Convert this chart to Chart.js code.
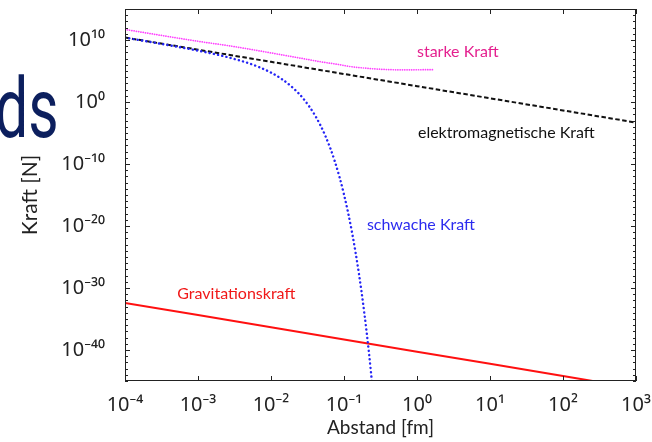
<!DOCTYPE html>
<html>
<head>
<meta charset="utf-8">
<script src="https://cdn.jsdelivr.net/npm/chart.js@4"></script>
<style>
  body { margin: 0; background: #fff; }
  #kaste { position: relative; width: 652px; height: 442px; overflow: hidden; }
  #slaids {
    position: absolute; left: -5px; top: 67px;
    font-family: Roboto, sans-serif; font-size: 84px; color: #0c1f5e;
    transform: scaleX(0.7); transform-origin: left top; line-height: 1;
  }
  canvas { position: absolute; left: 0; top: 0; }
</style>
</head>
<body>
<div id="kaste">
  <canvas id="speku_grafiks" width="652" height="442"></canvas>
  <div id="slaids">ds</div>
</div>
<script>
// Šīs rindas glabā attālumus (fm) desmitkāršos soļos.
const attalumiDekades = [1e-4, 1e-3, 1e-2, 1e-1, 1, 10, 100, 1000];

// Šī rinda glabā elektromagnētisko spēku (N).
const elektromagnetiska = [2.5e10, 2.75e8, 3.0e6, 3.3e4, 3.6e2, 4.0, 4.4e-2, 4.8e-4];

// Šī rinda glabā gravitācijas spēku (N).
const gravitacija = [4e-33, 4.3e-35, 4.7e-37, 5e-39, 5.4e-41, 5.9e-43, 6.3e-45, 6.8e-47];

// Šīs rindas glabā vājās mijiedarbības līknes punktus.
const vajaX = [1e-4, 3e-4, 1e-3, 2e-3, 3.5e-3, 5e-3, 7e-3, 0.01, 0.014, 0.02, 0.028, 0.04, 0.055, 0.075, 0.1, 0.13, 0.16, 0.19, 0.22, 0.25];
const vajaY = [2.4e10, 2.6e9, 1.9e8, 3.4e7, 6.2e6, 1.7e6, 3.8e5, 5.5e4, 5.2e3, 1.9e2, 3.0, 7.2e-3, 4.4e-6, 2.5e-10, 1.2e-15, 5.2e-22, 2.2e-28, 8.5e-35, 3.1e-41, 1.1e-47];

// Šīs rindas glabā stiprās mijiedarbības līknes punktus.
const stipraX = [1e-4, 1.07e-3, 2.75e-3, 0.0251, 0.0468, 0.089, 0.12, 0.59, 1.7];
const stipraY = [5e11, 5.5e9, 1.1e9, 1.2e7, 3.2e6, 1e6, 5.3e5, 1.55e5, 1.65e5];

// Šīs rindas glabā asu iedaļu eksponentes.
const xEksponentes = [-4, -3, -2, -1, 0, 1, 2, 3];
const yEksponentes = [-40, -30, -20, -10, 0, 10];
const yMazasNo = -45;
const yMazasLidz = 15;

// Šī rinda glabā uzrakstus pie līknēm: teksts, x, y, krāsa.
const uzraksti = [
    ["starke Kraft", 1.0, 1.2e8, "#e4208f"],
    ["elektromagnetische Kraft", 1.03, 1.1e-5, "#111111"],
    ["schwache Kraft", 0.206, 1.3e-20, "#2b2bef"],
    ["Gravitationskraft", 5.2e-4, 1e-31, "#f01818"]
];

// Šī funkcija pārvērš eksponenti augšrakstā.
function augsraksts(n) {
    const z = { "-": "\u207B", "0": "\u2070", "1": "\u00B9", "2": "\u00B2", "3": "\u00B3", "4": "\u2074",
        "5": "\u2075", "6": "\u2076", "7": "\u2077", "8": "\u2078", "9": "\u2079" };
    return "10" + String(n).split("").map(c => z[c]).join("");
}

// Šī funkcija savieno x un y masīvus punktos.
function punkti(xs, ys) {
    return xs.map((x, i) => ({ x: x, y: ys[i] }));
}

// Šis spraudnis zīmē rāmi, iekšējās iedaļas un uzrakstus.
const ramis = {
    id: "ramis",
    afterDraw(chart) {
        const { ctx, chartArea: a, scales: { x, y } } = chart;
        ctx.save();
        ctx.strokeStyle = "#222";
        ctx.lineWidth = 1;
        ctx.strokeRect(a.left + 0.5, a.top + 0.5, a.right - a.left - 1, a.bottom - a.top - 1);

        ctx.beginPath();
        x.ticks.forEach(t => {
            const px = Math.round(x.getPixelForValue(t.value)) + 0.5;
            ctx.moveTo(px, a.bottom); ctx.lineTo(px, a.bottom - 5);
            ctx.moveTo(px, a.top); ctx.lineTo(px, a.top + 5);
        });
        y.ticks.forEach(t => {
            const py = Math.round(y.getPixelForValue(t.value)) + 0.5;
            const exp = Math.round(Math.log10(t.value));
            const garums = yEksponentes.includes(exp) ? 5 : 3;
            ctx.moveTo(a.left, py); ctx.lineTo(a.left + garums, py);
            ctx.moveTo(a.right, py); ctx.lineTo(a.right - garums, py);
        });
        ctx.stroke();

        ctx.font = "16px Lato, 'Noto Sans', sans-serif";
        ctx.textBaseline = "middle";
        ctx.textAlign = "left";
        uzraksti.forEach(([teksts, ux, uy, krasa]) => {
            ctx.fillStyle = krasa;
            ctx.fillText(teksts, x.getPixelForValue(ux), y.getPixelForValue(uy));
        });
        ctx.restore();
    }
};

// Šī rinda izveido grafiku.
new Chart(document.getElementById("speku_grafiks"), {
    type: "line",
    data: {
        datasets: [
            {
                label: "schwache Kraft",
                data: punkti(vajaX, vajaY),
                borderColor: "#2424f5",
                borderWidth: 2.4,
                borderDash: [0.1, 4.2],
                borderCapStyle: "round",
                cubicInterpolationMode: "monotone"
            },
            {
                label: "elektromagnetische Kraft",
                data: punkti(attalumiDekades, elektromagnetiska),
                borderColor: "#111111",
                borderWidth: 2,
                borderDash: [4.5, 2.5]
            },
            {
                label: "starke Kraft",
                data: punkti(stipraX, stipraY),
                borderColor: "#ff40ff",
                borderWidth: 1.7,
                borderDash: [0.1, 2.2],
                borderCapStyle: "round",
                cubicInterpolationMode: "monotone"
            },
            {
                label: "Gravitationskraft",
                data: punkti(attalumiDekades, gravitacija),
                borderColor: "#ff1010",
                borderWidth: 2
            }
        ]
    },
    options: {
        responsive: false,
        animation: false,
        devicePixelRatio: 1,
        layout: { padding: { left: 16, right: 16, top: 9, bottom: 0 } },
        elements: { point: { radius: 0 }, line: { fill: false } },
        datasets: { line: { clip: 0 } },
        plugins: { legend: { display: false }, tooltip: { enabled: false } },
        scales: {
            x: {
                type: "logarithmic",
                min: 1e-4,
                max: 1e3,
                grid: { display: false },
                border: { display: false },
                afterBuildTicks: s => { s.ticks = xEksponentes.map(e => ({ value: Math.pow(10, e) })); },
                afterFit: s => { s.height = 61; s.paddingLeft = 0; s.paddingRight = 0; },
                ticks: {
                    autoSkip: false,
                    maxRotation: 0,
                    padding: 4,
                    color: "#222",
                    font: { family: "'Noto Sans', 'DejaVu Sans', sans-serif", size: 20 },
                    callback: v => augsraksts(Math.round(Math.log10(v)))
                },
                title: {
                    display: true,
                    text: "Abstand [fm]",
                    color: "#222",
                    padding: { top: 2, bottom: 3 },
                    font: { family: "Lato, 'Noto Sans', sans-serif", size: 19 }
                }
            },
            y: {
                type: "logarithmic",
                min: 1e-45,
                max: 1e15,
                grid: { display: false },
                border: { display: false },
                afterBuildTicks: s => {
                    const t = [];
                    for (let e = yMazasNo; e <= yMazasLidz; e++) t.push({ value: Math.pow(10, e) });
                    s.ticks = t;
                },
                afterFit: s => { s.width = 109; s.paddingTop = 0; s.paddingBottom = 0; },
                ticks: {
                    autoSkip: false,
                    padding: 12,
                    color: "#222",
                    font: { family: "'Noto Sans', 'DejaVu Sans', sans-serif", size: 20 },
                    callback: v => {
                        const e = Math.round(Math.log10(v));
                        return yEksponentes.includes(e) ? augsraksts(e) : "";
                    }
                },
                title: {
                    display: true,
                    text: "Kraft [N]",
                    color: "#222",
                    padding: { top: 2, bottom: 4 },
                    font: { family: "Lato, 'Noto Sans', sans-serif", size: 21 }
                }
            }
        }
    },
    plugins: [ramis]
});
</script>
</body>
</html>
